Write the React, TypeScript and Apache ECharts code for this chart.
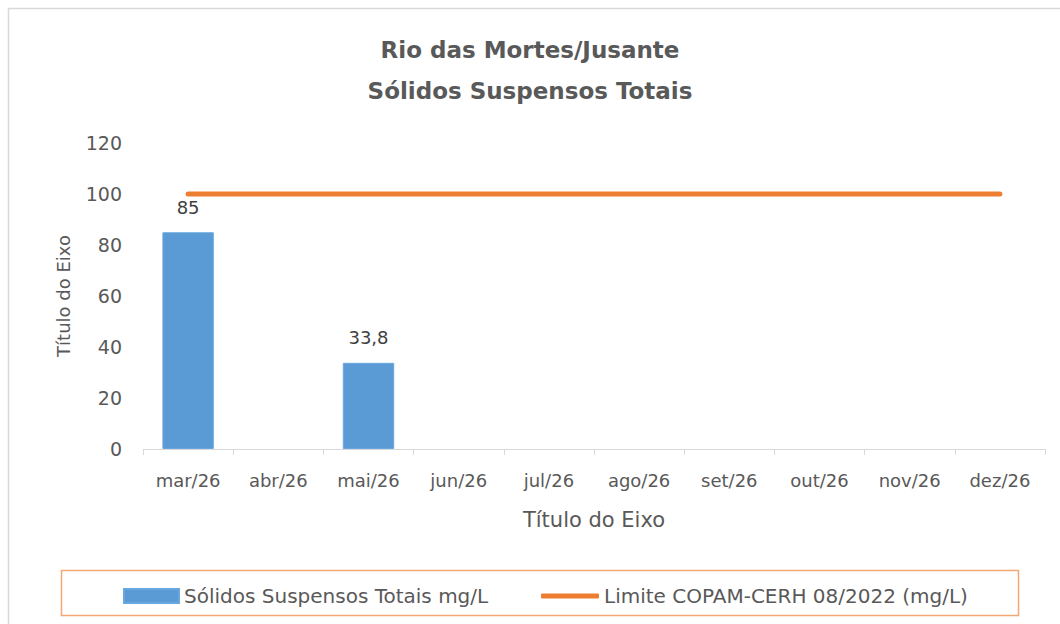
import React, { useEffect, useRef } from "react";
import * as echarts from "echarts";

const categories = ["mar/26", "abr/26", "mai/26", "jun/26", "jul/26", "ago/26", "set/26", "out/26", "nov/26", "dez/26"];
const solidosValues: (number | null)[] = [85, null, 33.8, null, null, null, null, null, null, null];
const limiteValues = [100, 100, 100, 100, 100, 100, 100, 100, 100, 100];
const titleLines = ["Rio das Mortes/Jusante", "Sólidos Suspensos Totais"];
const seriesNames = ["Sólidos Suspensos Totais mg/L", "Limite COPAM-CERH 08/2022 (mg/L)"];

const FONT = "'DejaVu Sans', 'Open Sans', sans-serif";
const GRAY = "#595959";

export default function App() {
  const ref = useRef<HTMLDivElement>(null);
  useEffect(() => {
    if (!ref.current) return;
    const chart = echarts.init(ref.current, null, { renderer: "svg" });
    chart.setOption({
      animation: false,
      backgroundColor: "#ffffff",
      textStyle: { fontFamily: FONT },
      title: {
        text: titleLines.join("\n"),
        left: "center",
        top: 24,
        textStyle: { fontFamily: FONT, fontSize: 23, fontWeight: "bold", color: GRAY, lineHeight: 41 },
      },
      graphic: [
        {
          type: "rect",
          shape: { x: 8.5, y: 8.5, width: 1100, height: 700 },
          style: { fill: "none", stroke: "#d9d9d9", lineWidth: 1.5 },
          silent: true,
        },
        {
          type: "rect",
          shape: { x: 61.5, y: 570.5, width: 957, height: 45 },
          style: { fill: "none", stroke: "#f4a875", lineWidth: 1.5 },
          silent: true,
        },
      ],
      legend: [
        {
          left: 118,
          top: 581,
          itemWidth: 55,
          itemHeight: 14,
          itemGap: 0,
          textStyle: { fontFamily: FONT, fontSize: 20, color: GRAY },
          data: [{ name: seriesNames[0], icon: "rect" }],
        },
        {
          left: 536,
          top: 581,
          itemWidth: 58,
          itemHeight: 5,
          itemGap: 0,
          textStyle: { fontFamily: FONT, fontSize: 20, color: GRAY },
          data: [{ name: seriesNames[1], icon: "roundRect" }],
        },
      ],
      grid: { left: 143, right: 15, top: 143, bottom: 175, containLabel: false },
      xAxis: {
        type: "category",
        data: categories,
        boundaryGap: true,
        axisLine: { lineStyle: { color: "#d9d9d9", width: 1 } },
        axisTick: { show: true, alignWithLabel: false, length: 6, lineStyle: { color: "#d9d9d9" } },
        axisLabel: { color: GRAY, fontSize: 18, margin: 22, fontFamily: FONT },
        name: "Título do Eixo",
        nameLocation: "middle",
        nameGap: 60,
        nameTextStyle: { color: GRAY, fontSize: 21, fontFamily: FONT },
      },
      yAxis: {
        type: "value",
        min: 0,
        max: 120,
        interval: 20,
        splitLine: { show: false },
        axisLine: { show: false },
        axisTick: { show: false },
        axisLabel: { color: GRAY, fontSize: 19, margin: 21, fontFamily: FONT },
        name: "Título do Eixo",
        nameLocation: "middle",
        nameGap: 71,
        nameTextStyle: { color: GRAY, fontSize: 18, fontFamily: FONT },
      },
      series: [
        {
          name: seriesNames[0],
          type: "bar",
          data: solidosValues,
          barWidth: "57%",
          itemStyle: { color: "#5b9bd5", borderColor: "#6aa7de", borderWidth: 1 },
          label: {
            show: true,
            position: "top",
            distance: 16,
            color: "#404040",
            fontSize: 18,
            fontFamily: FONT,
            formatter: (p: any) => String(p.value).replace(".", ","),
          },
        },
        {
          name: seriesNames[1],
          type: "line",
          data: limiteValues,
          symbol: "none",
          showSymbol: false,
          lineStyle: { color: "#ed7d31", width: 5, cap: "round" },
          itemStyle: { color: "#ed7d31" },
        },
      ],
    });
    return () => chart.dispose();
  }, []);
  return <div ref={ref} style={{ width: 1060, height: 624, position: "absolute", left: 0, top: 0 }} />;
}
